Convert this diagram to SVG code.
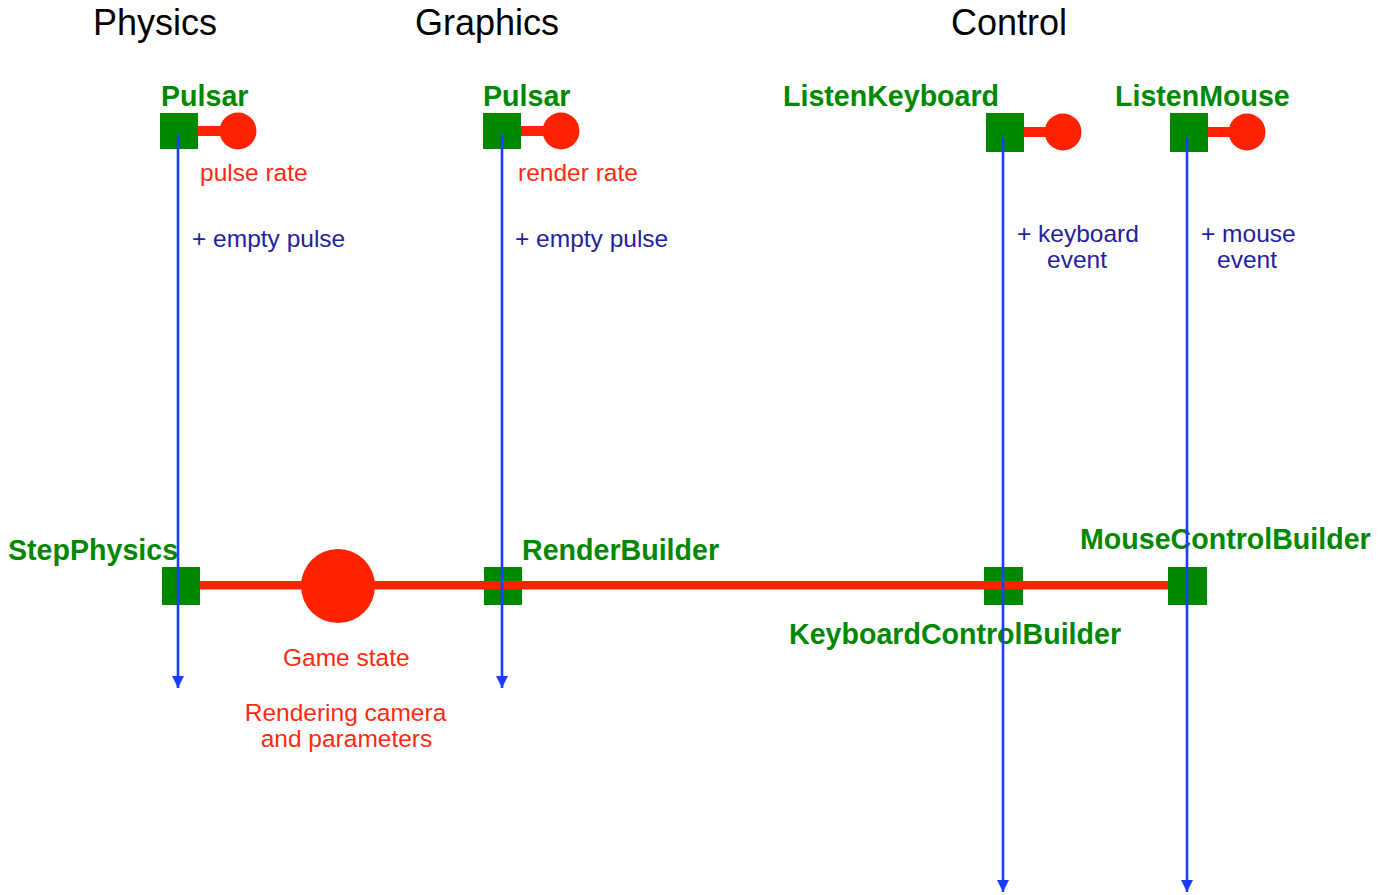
<svg xmlns="http://www.w3.org/2000/svg" width="1392" height="895" viewBox="0 0 1392 895">
  <defs>
    <style>
      .title { font-family: "Liberation Sans", Arial, sans-serif; font-size: 36px; fill: #000; }
      .node-label { font-family: "Liberation Sans", Arial, sans-serif; font-size: 28.6px; font-weight: bold; fill: #008800; }
      .data-label { font-family: "Liberation Sans", Arial, sans-serif; font-size: 24.5px; fill: #ff2a10; }
      .event-label { font-family: "Liberation Sans", Arial, sans-serif; font-size: 24.5px; fill: #22229a; }
      .box { fill: #008800; }
      .wire { fill: #ff2200; }
      .flow { stroke: #1a3cff; stroke-width: 2.6; fill: none; }
    </style>
    <marker id="arrow" viewBox="0 0 12 12" refX="12" refY="6" markerWidth="12" markerHeight="12" markerUnits="userSpaceOnUse" orient="auto">
      <path d="M0,0 L12,6 L0,12 Z" fill="#1a3cff"/>
    </marker>
  </defs>
  <rect width="1392" height="895" fill="#ffffff"/>

  <!-- column headings -->
  <text class="title" x="93" y="35">Physics</text>
  <text class="title" x="415" y="35">Graphics</text>
  <text class="title" x="951" y="35">Control</text>

  <!-- source nodes with their rate parameters -->
  <g id="physics-pulsar">
    <rect class="box" x="160" y="113" width="38" height="36"/>
    <rect class="wire" x="198" y="126" width="28" height="10"/>
    <circle class="wire" cx="238" cy="131" r="18.5"/>
    <text class="node-label" x="161" y="106">Pulsar</text>
    <text class="data-label" x="200" y="181">pulse rate</text>
  </g>
  <g id="graphics-pulsar">
    <rect class="box" x="483" y="113" width="38" height="36"/>
    <rect class="wire" x="521" y="126" width="28" height="10"/>
    <circle class="wire" cx="561" cy="131" r="18.5"/>
    <text class="node-label" x="483" y="106">Pulsar</text>
    <text class="data-label" x="518" y="181">render rate</text>
  </g>
  <g id="listen-keyboard">
    <rect class="box" x="986" y="113" width="38" height="39"/>
    <rect class="wire" x="1024" y="127" width="28" height="10"/>
    <circle class="wire" cx="1063" cy="132" r="18.5"/>
    <text class="node-label" x="783" y="106">ListenKeyboard</text>
  </g>
  <g id="listen-mouse">
    <rect class="box" x="1170" y="113" width="38" height="39"/>
    <rect class="wire" x="1208" y="127" width="28" height="10"/>
    <circle class="wire" cx="1247" cy="132" r="18.5"/>
    <text class="node-label" x="1115" y="106">ListenMouse</text>
  </g>

  <!-- builder nodes -->
  <g id="step-physics">
    <rect class="box" x="162" y="567" width="38" height="38"/>
    <text class="node-label" x="8" y="560">StepPhysics</text>
  </g>
  <g id="render-builder">
    <rect class="box" x="484" y="567" width="38" height="38"/>
    <text class="node-label" x="522" y="560">RenderBuilder</text>
  </g>
  <g id="keyboard-control-builder">
    <rect class="box" x="984" y="567" width="39" height="38"/>
    <text class="node-label" x="789" y="644">KeyboardControlBuilder</text>
  </g>
  <g id="mouse-control-builder">
    <rect class="box" x="1168" y="567" width="39" height="38"/>
    <text class="node-label" x="1080" y="549">MouseControlBuilder</text>
  </g>

  <!-- shared state bus -->
  <g id="game-state">
    <rect class="wire" x="200" y="581" width="968" height="8.5"/>
    <circle class="wire" cx="338" cy="586" r="37"/>
    <text class="data-label" x="283" y="666">Game state</text>
    <text class="data-label" x="345.5" y="721" text-anchor="middle">Rendering camera</text>
    <text class="data-label" x="346.5" y="747" text-anchor="middle">and parameters</text>
  </g>

  <!-- event flows -->
  <g id="connectors">
    <line class="flow" x1="178" y1="135" x2="178" y2="688" marker-end="url(#arrow)"/>
    <line class="flow" x1="502" y1="135" x2="502" y2="688" marker-end="url(#arrow)"/>
    <line class="flow" x1="1003" y1="138" x2="1003" y2="892" marker-end="url(#arrow)"/>
    <line class="flow" x1="1187" y1="138" x2="1187" y2="892" marker-end="url(#arrow)"/>
    <text class="event-label" x="192" y="247">+ empty pulse</text>
    <text class="event-label" x="515" y="247">+ empty pulse</text>
    <text class="event-label" x="1017" y="242">+ keyboard</text>
    <text class="event-label" x="1047" y="268">event</text>
    <text class="event-label" x="1201" y="242">+ mouse</text>
    <text class="event-label" x="1217" y="268">event</text>
  </g>
</svg>
